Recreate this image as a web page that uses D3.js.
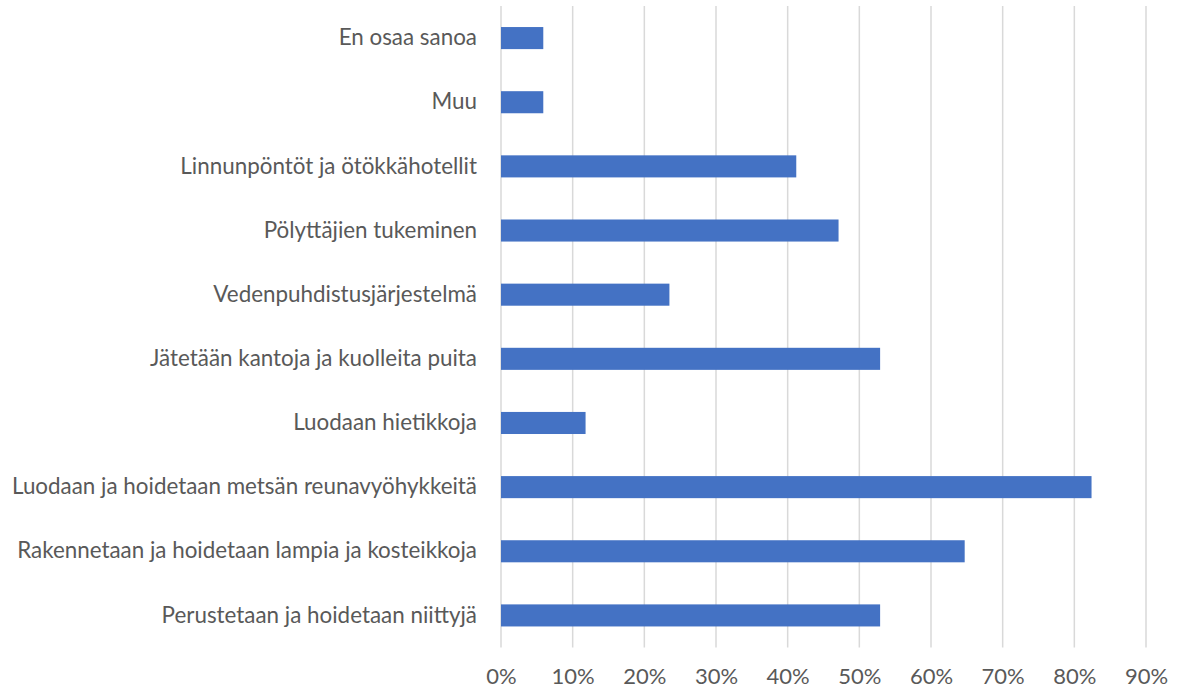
<!DOCTYPE html>
<html>
<head>
<meta charset="utf-8">
<script src="https://cdn.jsdelivr.net/npm/d3@7"></script>
<style>
  body { margin: 0; background: #fff; }
  text { font-family: Lato, "Open Sans", sans-serif; fill: #595959; }
</style>
</head>
<body>
<script>
// Kategoriat ylhäältä alas
const categories = [
    "En osaa sanoa",
    "Muu",
    "Linnunpöntöt ja ötökkähotellit",
    "Pölyttäjien tukeminen",
    "Vedenpuhdistusjärjestelmä",
    "Jätetään kantoja ja kuolleita puita",
    "Luodaan hietikkoja",
    "Luodaan ja hoidetaan metsän reunavyöhykkeitä",
    "Rakennetaan ja hoidetaan lampia ja kosteikkoja",
    "Perustetaan ja hoidetaan niittyjä"
];
// Osuudet (%)
const values = [5.9, 5.9, 41.2, 47.1, 23.5, 52.9, 11.8, 82.4, 64.7, 52.9];
const xTicks = [0, 10, 20, 30, 40, 50, 60, 70, 80, 90];

const width = 1180, height = 693;
const margin = { top: 6, right: 34, bottom: 46, left: 501 };

const svg = d3.select("body").append("svg")
    .attr("width", width)
    .attr("height", height);

const data = categories.map((c, i) => ({ cat: c, value: values[i] }));

const x = d3.scaleLinear()
    .domain([0, 90])
    .range([margin.left, margin.left + 645]);

const y = d3.scaleBand()
    .domain(categories)
    .range([margin.top, height - margin.bottom + 0.5])
    .paddingInner(0.656)
    .paddingOuter(0.328);

// Pystysuorat apuviivat
svg.append("g")
    .selectAll("line")
    .data(xTicks)
    .join("line")
    .attr("x1", d => x(d))
    .attr("x2", d => x(d))
    .attr("y1", margin.top)
    .attr("y2", height - margin.bottom + 0.5)
    .attr("stroke", "#d9d9d9")
    .attr("stroke-width", 1.5);

// Palkit
svg.append("g")
    .selectAll("rect")
    .data(data)
    .join("rect")
    .attr("x", x(0))
    .attr("y", d => y(d.cat))
    .attr("width", d => x(d.value) - x(0))
    .attr("height", y.bandwidth())
    .attr("fill", "#4472c4");

// X-akseli
const xAxis = svg.append("g")
    .attr("transform", `translate(0,${height - margin.bottom})`)
    .call(d3.axisBottom(x).tickValues(xTicks).tickFormat(d => d + "%").tickSize(0).tickPadding(21));
xAxis.select(".domain").remove();
xAxis.selectAll("text")
    .style("font-size", "22px")
    .style("font-family", "Lato, sans-serif")
    .attr("fill", "#595959");

// Y-akseli
const yAxis = svg.append("g")
    .attr("transform", `translate(${margin.left - 24},0)`)
    .call(d3.axisLeft(y).tickSize(0).tickPadding(0));
yAxis.select(".domain").remove();
yAxis.selectAll("text")
    .style("font-size", "22.4px")
    .style("font-family", "Lato, sans-serif")
    .attr("fill", "#595959");
</script>
</body>
</html>
